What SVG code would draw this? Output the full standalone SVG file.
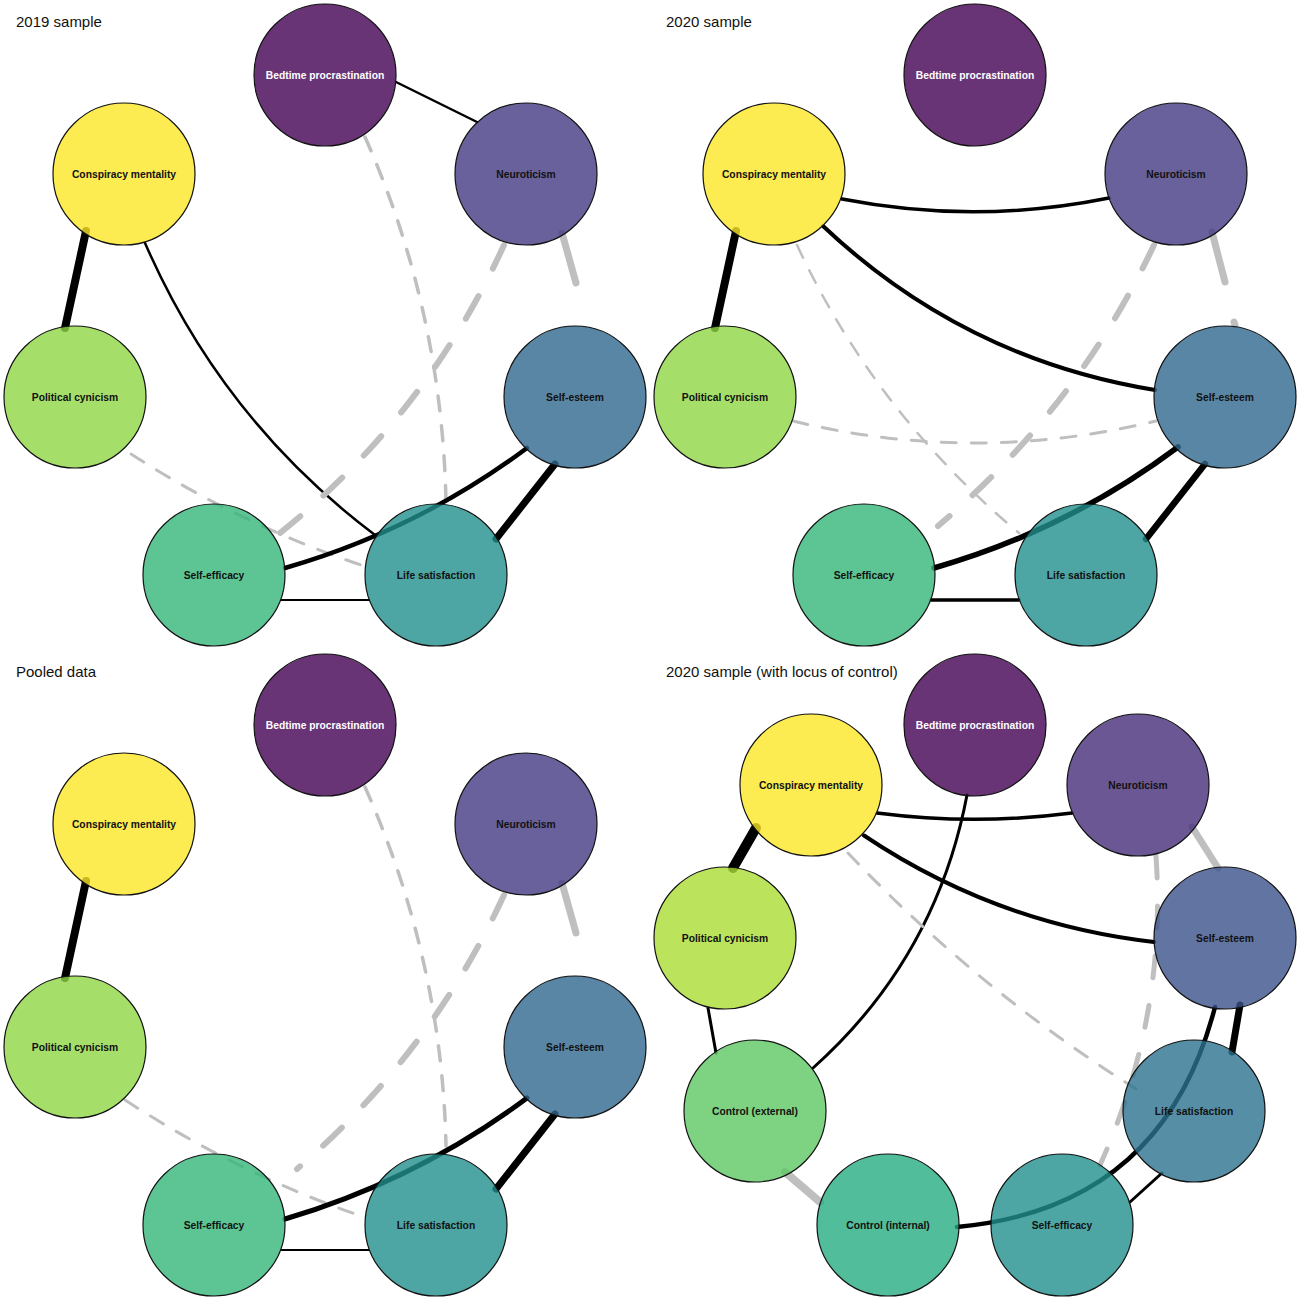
<svg xmlns="http://www.w3.org/2000/svg" width="1299" height="1299" viewBox="0 0 1299 1299">
<style>
.bg{fill:#fff}
.title{font-family:"Liberation Sans",Arial,Helvetica,sans-serif;font-size:15px;fill:#111}
.pos{stroke:#000;fill:none;stroke-linecap:round}
.neg{stroke:#BFBFBF;fill:none;stroke-linecap:round}
.node circle{fill-opacity:0.8;stroke:#111;stroke-width:1.2}
.node text{font-family:"Liberation Sans",Arial,Helvetica,sans-serif;font-weight:bold;font-size:10.3px;text-anchor:middle;fill:#111}
.node text.w{fill:#fff}
</style>
<rect class="bg" x="0" y="0" width="1299" height="1299"/>
<g id="titles">
<text class="title" x="16" y="27">2019 sample</text>
<text class="title" x="666" y="27">2020 sample</text>
<text class="title" x="16" y="677">Pooled data</text>
<text class="title" x="666" y="677">2020 sample (with locus of control)</text>
</g>
<g id="connectors">
<!-- Panel 1: 2019 -->
<line class="pos" x1="396" y1="82" x2="477" y2="122" stroke-width="2.5"/>
<line class="pos" x1="86" y1="231" x2="65" y2="328" stroke-width="8"/>
<path class="pos" d="M145,243 Q222,420 375,535" stroke-width="2.5"/>
<path class="neg" d="M365,137 Q442,310 446,502" stroke-width="3.5" stroke-dasharray="15 15"/>
<path class="neg" d="M504,245 Q426,416 280,533" stroke-width="6" stroke-dasharray="26 31"/>
<line class="neg" x1="562" y1="233" x2="576" y2="283" stroke-width="7"/>
<path class="neg" d="M131,454 Q241,525 364,566" stroke-width="3" stroke-dasharray="15 15"/>
<path class="pos" d="M285,568 Q417,530 527,448" stroke-width="4.5"/>
<line class="pos" x1="496" y1="539" x2="555" y2="464" stroke-width="7"/>
<line class="pos" x1="281" y1="600" x2="369" y2="600" stroke-width="2"/>
<!-- Panel 2: 2020 -->
<line class="pos" x1="736" y1="231" x2="715" y2="328" stroke-width="8"/>
<path class="pos" d="M842,199 Q975.5,225 1109,198" stroke-width="3.5"/>
<path class="pos" d="M823,226 Q964,359 1155,390" stroke-width="4"/>
<path class="neg" d="M797,245 Q875,413 1019,533" stroke-width="2.5" stroke-dasharray="14 14"/>
<path class="neg" d="M793,421 Q974.5,465 1156,421" stroke-width="3" stroke-dasharray="15 15"/>
<path class="neg" d="M1154,245 Q1076.6,409 938,526" stroke-width="6" stroke-dasharray="26 31"/>
<line class="neg" x1="1212" y1="232" x2="1225" y2="282" stroke-width="7"/>
<line class="neg" x1="1234" y1="322" x2="1235" y2="325" stroke-width="7"/>
<path class="pos" d="M934,568 Q1067,530 1178,447" stroke-width="5.5"/>
<line class="pos" x1="1146" y1="539" x2="1205" y2="464" stroke-width="6.5"/>
<line class="pos" x1="931" y1="600" x2="1019" y2="600" stroke-width="3.5"/>
<!-- Panel 3: pooled -->
<line class="pos" x1="86" y1="881" x2="65" y2="978" stroke-width="8"/>
<path class="neg" d="M365,787 Q442,960 446,1146" stroke-width="3.5" stroke-dasharray="15 15"/>
<path class="neg" d="M504,895 Q430,1055 297,1169" stroke-width="6" stroke-dasharray="26 31"/>
<line class="neg" x1="562" y1="883" x2="576" y2="933" stroke-width="7"/>
<path class="neg" d="M125,1100 Q239,1174 361,1216" stroke-width="3" stroke-dasharray="15 15"/>
<path class="pos" d="M285,1219 Q417,1180 527,1098" stroke-width="5"/>
<line class="pos" x1="496" y1="1189" x2="555" y2="1114" stroke-width="7"/>
<line class="pos" x1="281" y1="1250" x2="369" y2="1250" stroke-width="2"/>
<!-- Panel 4: 2020 with locus of control -->
<line class="pos" x1="756" y1="828" x2="733" y2="868" stroke-width="10"/>
<path class="pos" d="M877,813 Q975,825.6 1072,813" stroke-width="3.5"/>
<path class="pos" d="M864,835.5 Q996,924 1154,942" stroke-width="4"/>
<path class="pos" d="M967,795 Q936,958 813,1068" stroke-width="3"/>
<path class="neg" d="M848,853 Q977,989 1136,1089" stroke-width="3" stroke-dasharray="15 15"/>
<line class="neg" x1="1192" y1="827" x2="1218" y2="868" stroke-width="7"/>
<path class="neg" d="M1156,856 Q1167,1017 1100,1165" stroke-width="5" stroke-dasharray="22 28"/>
<line class="pos" x1="708" y1="1008" x2="716" y2="1053" stroke-width="3"/>
<line class="neg" x1="785" y1="1172" x2="820" y2="1202" stroke-width="8"/>
<path class="pos" d="M957,1227 Q1163,1208 1215,1007" stroke-width="4.5"/>
<line class="pos" x1="1240" y1="1005" x2="1232" y2="1052" stroke-width="7"/>
<line class="pos" x1="1130" y1="1202" x2="1162" y2="1173" stroke-width="3"/>
</g>
<!-- Panel 1 nodes -->
<g id="p1-bedtime" class="node"><circle cx="325" cy="75" r="71" fill="#440154"/><text class="w" x="325" y="78.7">Bedtime procrastination</text></g>
<g id="p1-neuroticism" class="node"><circle cx="526" cy="174" r="71" fill="#443A83"/><text x="526" y="177.7">Neuroticism</text></g>
<g id="p1-conspiracy" class="node"><circle cx="124" cy="174" r="71" fill="#FDE725"/><text x="124" y="177.7">Conspiracy mentality</text></g>
<g id="p1-political" class="node"><circle cx="75" cy="397" r="71" fill="#8FD744"/><text x="75" y="400.7">Political cynicism</text></g>
<g id="p1-selfesteem" class="node"><circle cx="575" cy="397" r="71" fill="#31688E"/><text x="575" y="400.7">Self-esteem</text></g>
<g id="p1-selfefficacy" class="node"><circle cx="214" cy="575" r="71" fill="#35B779"/><text x="214" y="578.7">Self-efficacy</text></g>
<g id="p1-lifesat" class="node"><circle cx="436" cy="575" r="71" fill="#21908C"/><text x="436" y="578.7">Life satisfaction</text></g>
<!-- Panel 2 nodes -->
<g id="p2-bedtime" class="node"><circle cx="975" cy="75" r="71" fill="#440154"/><text class="w" x="975" y="78.7">Bedtime procrastination</text></g>
<g id="p2-neuroticism" class="node"><circle cx="1176" cy="174" r="71" fill="#443A83"/><text x="1176" y="177.7">Neuroticism</text></g>
<g id="p2-conspiracy" class="node"><circle cx="774" cy="174" r="71" fill="#FDE725"/><text x="774" y="177.7">Conspiracy mentality</text></g>
<g id="p2-political" class="node"><circle cx="725" cy="397" r="71" fill="#8FD744"/><text x="725" y="400.7">Political cynicism</text></g>
<g id="p2-selfesteem" class="node"><circle cx="1225" cy="397" r="71" fill="#31688E"/><text x="1225" y="400.7">Self-esteem</text></g>
<g id="p2-selfefficacy" class="node"><circle cx="864" cy="575" r="71" fill="#35B779"/><text x="864" y="578.7">Self-efficacy</text></g>
<g id="p2-lifesat" class="node"><circle cx="1086" cy="575" r="71" fill="#21908C"/><text x="1086" y="578.7">Life satisfaction</text></g>
<!-- Panel 3 nodes -->
<g id="p3-bedtime" class="node"><circle cx="325" cy="725" r="71" fill="#440154"/><text class="w" x="325" y="728.7">Bedtime procrastination</text></g>
<g id="p3-neuroticism" class="node"><circle cx="526" cy="824" r="71" fill="#443A83"/><text x="526" y="827.7">Neuroticism</text></g>
<g id="p3-conspiracy" class="node"><circle cx="124" cy="824" r="71" fill="#FDE725"/><text x="124" y="827.7">Conspiracy mentality</text></g>
<g id="p3-political" class="node"><circle cx="75" cy="1047" r="71" fill="#8FD744"/><text x="75" y="1050.7">Political cynicism</text></g>
<g id="p3-selfesteem" class="node"><circle cx="575" cy="1047" r="71" fill="#31688E"/><text x="575" y="1050.7">Self-esteem</text></g>
<g id="p3-selfefficacy" class="node"><circle cx="214" cy="1225" r="71" fill="#35B779"/><text x="214" y="1228.7">Self-efficacy</text></g>
<g id="p3-lifesat" class="node"><circle cx="436" cy="1225" r="71" fill="#21908C"/><text x="436" y="1228.7">Life satisfaction</text></g>
<!-- Panel 4 nodes -->
<g id="p4-bedtime" class="node"><circle cx="975" cy="725" r="71" fill="#440154"/><text class="w" x="975" y="728.7">Bedtime procrastination</text></g>
<g id="p4-conspiracy" class="node"><circle cx="811" cy="785" r="71" fill="#FDE725"/><text x="811" y="788.7">Conspiracy mentality</text></g>
<g id="p4-neuroticism" class="node"><circle cx="1138" cy="785" r="71" fill="#472D7B"/><text x="1138" y="788.7">Neuroticism</text></g>
<g id="p4-political" class="node"><circle cx="725" cy="938" r="71" fill="#AADC32"/><text x="725" y="941.7">Political cynicism</text></g>
<g id="p4-selfesteem" class="node"><circle cx="1225" cy="938" r="71" fill="#3B528B"/><text x="1225" y="941.7">Self-esteem</text></g>
<g id="p4-controlext" class="node"><circle cx="755" cy="1111" r="71" fill="#5DC863"/><text x="755" y="1114.7">Control (external)</text></g>
<g id="p4-lifesat" class="node"><circle cx="1194" cy="1111" r="71" fill="#2C728E"/><text x="1194" y="1114.7">Life satisfaction</text></g>
<g id="p4-controlint" class="node"><circle cx="888" cy="1225" r="71" fill="#27AD81"/><text x="888" y="1228.7">Control (internal)</text></g>
<g id="p4-selfefficacy" class="node"><circle cx="1062" cy="1225" r="71" fill="#21908C"/><text x="1062" y="1228.7">Self-efficacy</text></g>
</svg>
